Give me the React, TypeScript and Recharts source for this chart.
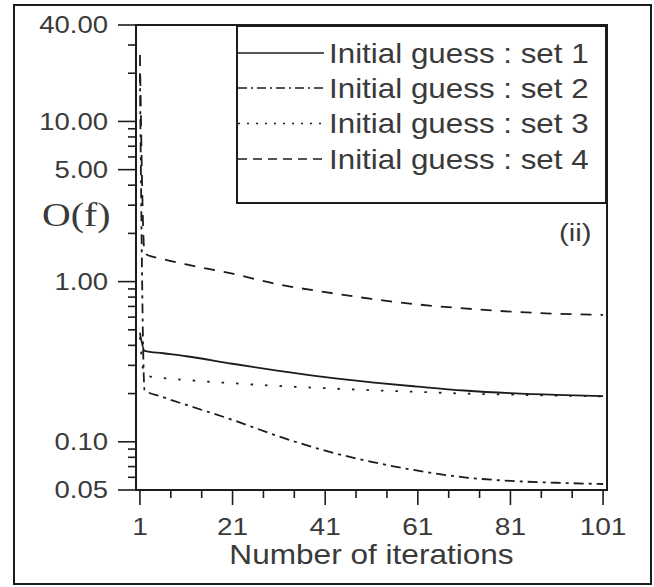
import React from 'react';
import { LineChart, Line, XAxis, YAxis, ReferenceArea, Legend, Customized } from 'recharts';

// ---- data ----
const iterations = [1, 2, 6, 11, 21, 31, 41, 51, 61, 71, 81, 91, 101];
const set1 = [0.48, 0.37, 0.357, 0.342, 0.307, 0.277, 0.253, 0.235, 0.221, 0.209, 0.201, 0.196, 0.193];
const set2 = [20, 0.21, 0.19, 0.17, 0.137, 0.108, 0.088, 0.075, 0.066, 0.06, 0.057, 0.0555, 0.0545];
const set3 = [0.45, 0.26, 0.25, 0.243, 0.232, 0.223, 0.216, 0.21, 0.205, 0.2, 0.197, 0.194, 0.192];
const set4 = [26, 1.5, 1.38, 1.28, 1.12, 0.96, 0.86, 0.78, 0.72, 0.68, 0.65, 0.63, 0.62];

const seriesNames = [
  'Initial guess : set 1',
  'Initial guess : set 2',
  'Initial guess : set 3',
  'Initial guess : set 4',
];

const xMajorTicks = [1, 21, 41, 61, 81, 101];
const yMajorTicks = [40, 10, 5, 1, 0.1, 0.05];
const yMinorTicks = [30, 20, 9, 8, 7, 6, 4, 3, 2, 0.9, 0.8, 0.7, 0.6, 0.5, 0.4, 0.3, 0.2, 0.09, 0.08, 0.07, 0.06];

const yLabel = 'O(f)';
const xLabel = 'Number of iterations';
const panelLabel = '(ii)';

// ---- derived tables ----
const data = iterations.map((it, i) => ({ it, s1: set1[i], s2: set2[i], s3: set3[i], s4: set4[i] }));
const keys = ['s1', 's2', 's3', 's4'];
const plotDash = ['', '10 5 3 5', '2.5 12', '11 9'];
const legendDash = ['', '9 4 2 4', '2 7', '9 6'];

const xMinorTicks: number[] = [];
for (let i = 0; i < xMajorTicks.length - 1; i++) {
  const a = xMajorTicks[i];
  const step = (xMajorTicks[i + 1] - a) / 3;
  xMinorTicks.push(a + step, a + 2 * step);
}
const xTicks = [...xMajorTicks, ...xMinorTicks].sort((a, b) => a - b);
const yTicks = [...yMajorTicks, ...yMinorTicks].sort((a, b) => a - b);

const INK = '#1c1c1c';
const TEXT = '#3a3a3a';
const SANS = '"Liberation Sans", Arial, sans-serif';
const SERIF = '"Liberation Serif", "Times New Roman", serif';
const SX = 1.17;

const Stretch = ({ x, y, anchor, size, family = SANS, sx = SX, children }: any) => (
  <g transform={`translate(${x},${y}) scale(${sx},1)`}>
    <text x={0} y={0} dy="0.35em" textAnchor={anchor} fontSize={size} fontFamily={family} fill={TEXT}>
      {children}
    </text>
  </g>
);

const isIn = (arr: number[], v: number) => arr.some((m) => Math.abs(m - v) < 1e-9);

const YTick = (props: any) => {
  const { x, y, payload } = props;
  const v = payload.value;
  const major = isIn(yMajorTicks, v);
  const len = major ? 18 : 8;
  return (
    <g>
      <line x1={x - len} x2={x} y1={y} y2={y} stroke={INK} strokeWidth={1.6} />
      {major && (
        <Stretch x={x - 28} y={y} anchor="end" size={23.5}>
          {v.toFixed(2)}
        </Stretch>
      )}
    </g>
  );
};

const XTick = (props: any) => {
  const { x, y, payload } = props;
  const v = payload.value;
  const major = isIn(xMajorTicks, v);
  const len = major ? 15 : 8;
  return (
    <g>
      <line x1={x} x2={x} y1={y} y2={y + len} stroke={INK} strokeWidth={1.6} />
      {major && (
        <Stretch x={x} y={y + 37} anchor="middle" size={24}>
          {String(v)}
        </Stretch>
      )}
    </g>
  );
};

const LegendBox = (props: any) => {
  const payload = props.payload || [];
  const rowY = [28, 63, 98.5, 134];
  return (
    <svg width={371} height={179} style={{ display: 'block', overflow: 'visible' }}>
      <rect x={1} y={1} width={369} height={177} fill="#fff" stroke={INK} strokeWidth={2} />
      {payload.map((entry: any, i: number) => {
        const idx = keys.indexOf(entry.dataKey);
        return (
          <g key={i}>
            <line
              x1={2}
              x2={88}
              y1={rowY[i]}
              y2={rowY[i]}
              stroke={INK}
              strokeWidth={1.6}
              strokeDasharray={legendDash[idx] || undefined}
            />
            <Stretch x={93} y={rowY[i]} anchor="start" size={28} sx={1.12}>
              {entry.value}
            </Stretch>
          </g>
        );
      })}
    </svg>
  );
};

const Annotations = () => (
  <g>
    <Stretch x={371.5} y={555} anchor="middle" size={27}>
      {xLabel}
    </Stretch>
    <Stretch x={42} y={214} anchor="start" size={34} family={SERIF}>
      {yLabel}
    </Stretch>
    <Stretch x={559} y={233} anchor="start" size={24} sx={1.22}>
      {panelLabel}
    </Stretch>
  </g>
);

export default function App() {
  return (
    <div style={{ position: 'absolute', left: 0, top: 0, width: 654, height: 587, background: '#fff' }}>
      <div
        style={{
          position: 'absolute',
          left: 13,
          top: 4,
          width: 639,
          height: 581,
          boxSizing: 'border-box',
          border: `2.5px solid ${INK}`,
        }}
      />
      <LineChart width={654} height={587} data={data} margin={{ top: 25, right: 47, bottom: 0, left: 0 }}>
        <XAxis
          dataKey="it"
          type="number"
          domain={[0.15, 101.85]}
          allowDataOverflow
          ticks={xTicks}
          interval={0}
          height={97}
          tickSize={0}
          tickMargin={0}
          tickLine={false}
          axisLine={{ stroke: INK, strokeWidth: 2 }}
          tick={<XTick />}
        />
        <YAxis
          type="number"
          scale="log"
          domain={[0.05, 40]}
          allowDataOverflow
          ticks={yTicks}
          interval={0}
          width={136}
          tickSize={0}
          tickMargin={0}
          tickLine={false}
          axisLine={{ stroke: INK, strokeWidth: 2 }}
          tick={<YTick />}
        />
        <ReferenceArea x1={0.15} x2={101.85} y1={0.05} y2={40} fill="none" stroke={INK} strokeWidth={2} ifOverflow="visible" />
        {keys.map((k, i) => (
          <Line
            key={k}
            dataKey={k}
            name={seriesNames[i]}
            type="monotone"
            stroke={INK}
            strokeWidth={1.8}
            strokeDasharray={plotDash[i] || undefined}
            dot={false}
            isAnimationActive={false}
          />
        ))}
        <Legend
          layout="vertical"
          align="center"
          verticalAlign="middle"
          content={<LegendBox />}
          wrapperStyle={{ left: 236, top: 25, width: 371, height: 179 }}
        />
        <Customized component={<Annotations />} />
      </LineChart>
    </div>
  );
}
